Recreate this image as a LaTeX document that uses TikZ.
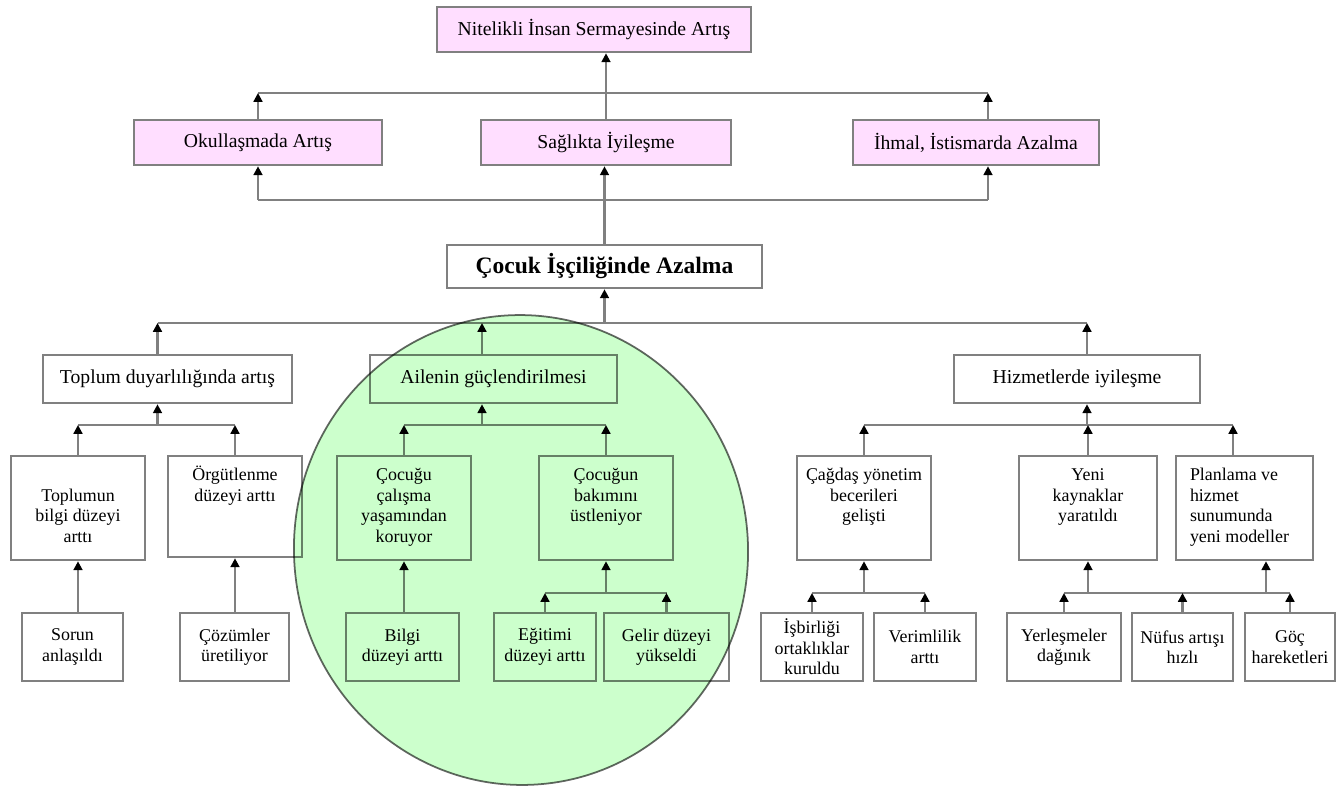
\documentclass[tikz,border=0pt]{standalone}
\usepackage{fontspec}
\setmainfont{Liberation Serif}
\usepackage{tikz}
\usetikzlibrary{arrows.meta}

\definecolor{pembe}{RGB}{255,222,255}
\definecolor{gri}{RGB}{128,128,128}
\definecolor{yesil}{RGB}{204,255,204}

\newcommand{\kutuyazi}[3]{\parbox[t][#1][t]{#2}{#3}}

\begin{document}
\begin{tikzpicture}[x=0.02cm, y=-0.02cm]

	\tikzstyle{pink_node}=[rectangle, fill=pembe, draw=gri, line width=1.5pt, minimum height=0.9cm, font=\fontsize{11.2}{13}\selectfont]
	\tikzstyle{main_node}=[rectangle, fill=white, draw=gri, line width=1.5pt, minimum height=0.86cm, font=\fontsize{13.4}{15}\selectfont\bfseries]
	\tikzstyle{mid_node}=[rectangle, fill=white, draw=gri, line width=1.5pt, minimum height=0.96cm, font=\fontsize{11.2}{13}\selectfont]
	\tikzstyle{tall_node}=[rectangle, fill=white, draw=gri, line width=1.5pt, inner sep=0pt, font=\fontsize{10.2}{11.7}\selectfont]
	\tikzstyle{leaf_node}=[rectangle, fill=white, draw=gri, line width=1.5pt, minimum height=1.36cm, inner ysep=1pt, align=center, font=\fontsize{10.2}{11.7}\selectfont]
	\tikzstyle{arrow_line}=[-{Triangle[width=5pt,length=5pt,color=black]}, draw=gri, line width=1.2pt]
	\tikzstyle{plain_line}=[draw=gri, line width=1.2pt]

	\useasboundingbox (0,0) rectangle (1336,788);

	%Top nodes
	\node[pink_node, minimum width=6.28cm] at (594, 29.5) (top) {Nitelikli İnsan Sermayesinde Artış};
	\node[pink_node, minimum width=4.96cm] at (258, 142.5) (okul) {Okullaşmada Artış};
	\node[pink_node, minimum width=5cm] at (606, 142.5) (saglik) {Sağlıkta İyileşme};
	\node[pink_node, minimum width=4.92cm] at (976, 142.5) (ihmal) {İhmal, İstismarda Azalma};
	\node[main_node, minimum width=6.3cm] at (604.5, 266.5) (cocuk) {Çocuk İşçiliğinde Azalma};

	%Middle nodes
	\node[mid_node, minimum width=4.98cm] at (167.5, 379) (toplum) {Toplum duyarlılığında artış};
	\node[mid_node, minimum width=4.94cm] at (493.5, 379) (aile) {Ailenin güçlendirilmesi};
	\node[mid_node, minimum width=4.92cm] at (1077, 379) (hizmet) {Hizmetlerde iyileşme};

	\node[tall_node] at (78, 508) (bilgiart) {\kutuyazi{2.08cm}{2.68cm}{\centering\rule{0pt}{14pt}\mbox{}\\Toplumun\\bilgi düzeyi\\arttı}};
	\node[tall_node] at (235, 506.5) (orgut) {\kutuyazi{2.02cm}{2.68cm}{\centering\rule{0pt}{14pt}Örgütlenme\\düzeyi arttı}};
	\node[tall_node] at (404, 508) (koruyor) {\kutuyazi{2.08cm}{2.68cm}{\centering\rule{0pt}{14pt}Çocuğu\\çalışma\\yaşamından\\koruyor}};
	\node[tall_node] at (606, 508) (bakim) {\kutuyazi{2.08cm}{2.68cm}{\centering\rule{0pt}{14pt}Çocuğun\\bakımını\\üstleniyor}};
	\node[tall_node] at (864, 508) (cagdas) {\kutuyazi{2.08cm}{2.68cm}{\centering\rule{0pt}{14pt}Çağdaş yönetim\\becerileri\\gelişti}};
	\node[tall_node] at (1088, 508) (kaynak) {\kutuyazi{2.08cm}{2.76cm}{\centering\rule{0pt}{14pt}Yeni\\kaynaklar\\yaratıldı}};
	\node[tall_node] at (1244.5, 508) (planlama) {\kutuyazi{2.08cm}{2.74cm}{\raggedright\leftskip=0.28cm\rule{0pt}{14pt}Planlama ve\\hizmet\\sunumunda\\yeni modeller}};

	%Bottom nodes
	\node[leaf_node, minimum width=2.02cm] at (72.5, 647) (sorun) {Sorun\\anlaşıldı};
	\node[leaf_node, minimum width=2.18cm] at (234.5, 647) (cozum) {Çözümler\\üretiliyor};
	\node[leaf_node, minimum width=2.26cm] at (402.5, 647) (bilgi) {Bilgi\\düzeyi arttı};
	\node[leaf_node, minimum width=2.04cm] at (545, 647) (egitim) {Eğitimi\\düzeyi arttı};
	\node[leaf_node, minimum width=2.5cm] at (666.5, 647) (gelir) {Gelir düzeyi\\yükseldi};
	\node[leaf_node, minimum width=2.04cm] at (812, 647) (isbirligi) {İşbirliği\\ortaklıklar\\kuruldu};
	\node[leaf_node, minimum width=2.04cm] at (925, 647) (verim) {Verimlilik\\arttı};
	\node[leaf_node, minimum width=2.28cm] at (1064, 647) (yerlesme) {Yerleşmeler\\dağınık};
	\node[leaf_node, minimum width=2.02cm] at (1182.5, 647) (nufus) {Nüfus artışı\\hızlı};
	\node[leaf_node, minimum width=1.8cm] at (1290, 647) (goc) {Göç\\hareketleri};

	\coordinate (bus_one) at (605, 93);
	\coordinate (bus_two) at (605, 200);
	\coordinate (bus_three) at (605, 323);
	\coordinate (bus_four) at (605, 425);
	\coordinate (bus_five) at (605, 593);

	% Connections
	\draw[arrow_line] (saglik.north) -- (top.south -| saglik.north);
	\draw[plain_line] (okul.north |- bus_one) -- ([xshift=0.24cm]ihmal.north |- bus_one);
	\draw[arrow_line] (okul.north) -- (okul.north |- bus_one);
	\draw[arrow_line] ([xshift=0.24cm]ihmal.north) -- ([xshift=0.24cm]ihmal.north |- bus_one);

	\draw[arrow_line] (cocuk.north) -- (saglik.south -| cocuk.north);
	\draw[plain_line] (okul.south |- bus_two) -- ([xshift=0.24cm]ihmal.south |- bus_two);
	\draw[arrow_line] (okul.south |- bus_two) -- (okul.south);
	\draw[arrow_line] ([xshift=0.24cm]ihmal.south |- bus_two) -- ([xshift=0.24cm]ihmal.south);

	\draw[arrow_line] (cocuk.south |- bus_three) -- (cocuk.south);
	\draw[plain_line] ([xshift=-0.2cm]toplum.north |- bus_three) -- ([xshift=0.2cm]hizmet.north |- bus_three);
	\draw[arrow_line] ([xshift=-0.2cm]toplum.north) -- ([xshift=-0.2cm]toplum.north |- bus_three);
	\draw[arrow_line] ([xshift=-0.23cm]aile.north) -- ([xshift=-0.23cm]aile.north |- bus_three);
	\draw[arrow_line] ([xshift=0.2cm]hizmet.north) -- ([xshift=0.2cm]hizmet.north |- bus_three);

	\draw[arrow_line] ([xshift=-0.2cm]toplum.south |- bus_four) -- ([xshift=-0.2cm]toplum.south);
	\draw[plain_line] (bilgiart.north |- bus_four) -- (orgut.north |- bus_four);
	\draw[arrow_line] (bilgiart.north) -- (bilgiart.north |- bus_four);
	\draw[arrow_line] (orgut.north) -- (orgut.north |- bus_four);

	\draw[arrow_line] ([xshift=-0.23cm]aile.south |- bus_four) -- ([xshift=-0.23cm]aile.south);
	\draw[plain_line] (koruyor.north |- bus_four) -- (bakim.north |- bus_four);
	\draw[arrow_line] (koruyor.north) -- (koruyor.north |- bus_four);
	\draw[arrow_line] (bakim.north) -- (bakim.north |- bus_four);

	\draw[arrow_line] ([xshift=0.2cm]hizmet.south |- bus_four) -- ([xshift=0.2cm]hizmet.south);
	\draw[plain_line] (cagdas.north |- bus_four) -- ([xshift=-0.23cm]planlama.north |- bus_four);
	\draw[arrow_line] (cagdas.north) -- (cagdas.north |- bus_four);
	\draw[arrow_line] (kaynak.north) -- (kaynak.north |- bus_four);
	\draw[arrow_line] ([xshift=-0.23cm]planlama.north) -- ([xshift=-0.23cm]planlama.north |- bus_four);

	\draw[arrow_line] (sorun.north -| bilgiart.south) -- (bilgiart.south);
	\draw[arrow_line] (cozum.north -| orgut.south) -- (orgut.south);
	\draw[arrow_line] (bilgi.north -| koruyor.south) -- (koruyor.south);

	\draw[arrow_line] (bakim.south |- bus_five) -- (bakim.south);
	\draw[plain_line] (egitim.north |- bus_five) -- (gelir.north |- bus_five);
	\draw[arrow_line] (egitim.north) -- (egitim.north |- bus_five);
	\draw[arrow_line] (gelir.north) -- (gelir.north |- bus_five);

	\draw[arrow_line] (cagdas.south |- bus_five) -- (cagdas.south);
	\draw[plain_line] (isbirligi.north |- bus_five) -- (verim.north |- bus_five);
	\draw[arrow_line] (isbirligi.north) -- (isbirligi.north |- bus_five);
	\draw[arrow_line] (verim.north) -- (verim.north |- bus_five);

	\draw[arrow_line] (kaynak.south |- bus_five) -- (kaynak.south);
	\draw[arrow_line] ([xshift=0.43cm]planlama.south |- bus_five) -- ([xshift=0.43cm]planlama.south);
	\draw[plain_line] (yerlesme.north |- bus_five) -- (goc.north |- bus_five);
	\draw[arrow_line] (yerlesme.north) -- (yerlesme.north |- bus_five);
	\draw[arrow_line] (nufus.north) -- (nufus.north |- bus_five);
	\draw[arrow_line] (goc.north) -- (goc.north |- bus_five);

	% Family group
	\begin{scope}[blend mode=multiply]
		\draw[fill=yesil, draw=gri!80!black, line width=1pt] (521, 550) ellipse [x radius=227, y radius=235, rotate=5];
	\end{scope}

\end{tikzpicture}
\end{document}
